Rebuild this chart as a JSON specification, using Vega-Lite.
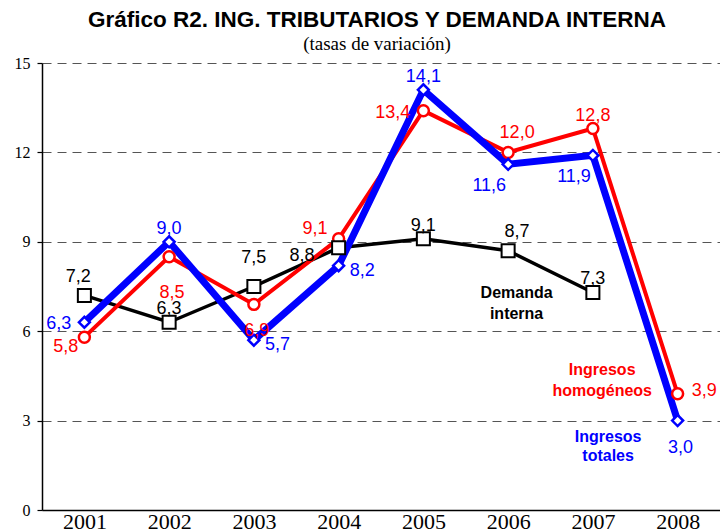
{
  "$schema": "https://vega.github.io/schema/vega-lite/v6.json",
  "width": 678,
  "height": 447,
  "autosize": {"type": "none"},
  "padding": {"left": 42, "top": 63, "right": 0, "bottom": 22},
  "background": "white",
  "title": {
    "text": "Gráfico R2. ING. TRIBUTARIOS Y DEMANDA INTERNA",
    "subtitle": "(tasas de variación)",
    "anchor": "middle",
    "font": "Liberation Sans",
    "fontSize": 22.5,
    "fontWeight": "bold",
    "color": "black",
    "subtitleFont": "Liberation Serif",
    "subtitleFontSize": 19,
    "subtitleColor": "black",
    "subtitlePadding": 4,
    "offset": 1,
    "dx": -4
  },
  "datasets": {
    "series": [
      {"serie": "Demanda interna", "year": 2001, "value": 7.2, "lab": "NW"},
      {"serie": "Demanda interna", "year": 2002, "value": 6.3, "lab": "N"},
      {"serie": "Demanda interna", "year": 2003, "value": 7.5, "lab": "NN"},
      {"serie": "Demanda interna", "year": 2004, "value": 8.8, "lab": "WW"},
      {"serie": "Demanda interna", "year": 2005, "value": 9.1, "lab": "N"},
      {"serie": "Demanda interna", "year": 2006, "value": 8.7, "lab": "NE"},
      {"serie": "Demanda interna", "year": 2007, "value": 7.3, "lab": "N"},
      {"serie": "Ingresos homogéneos", "year": 2001, "value": 5.8, "lab": "WS"},
      {"serie": "Ingresos homogéneos", "year": 2002, "value": 8.5, "lab": "SS"},
      {"serie": "Ingresos homogéneos", "year": 2003, "value": 6.9, "lab": "S"},
      {"serie": "Ingresos homogéneos", "year": 2004, "value": 9.1, "lab": "WN"},
      {"serie": "Ingresos homogéneos", "year": 2005, "value": 13.4, "lab": "W"},
      {"serie": "Ingresos homogéneos", "year": 2006, "value": 12.0, "lab": "NE"},
      {"serie": "Ingresos homogéneos", "year": 2007, "value": 12.8, "lab": "N"},
      {"serie": "Ingresos homogéneos", "year": 2008, "value": 3.9, "lab": "EN"},
      {"serie": "Ingresos totales", "year": 2001, "value": 6.3, "lab": "W"},
      {"serie": "Ingresos totales", "year": 2002, "value": 9.0, "lab": "N"},
      {"serie": "Ingresos totales", "year": 2003, "value": 5.7, "lab": "E"},
      {"serie": "Ingresos totales", "year": 2004, "value": 8.2, "lab": "E"},
      {"serie": "Ingresos totales", "year": 2005, "value": 14.1, "lab": "N"},
      {"serie": "Ingresos totales", "year": 2006, "value": 11.6, "lab": "SW"},
      {"serie": "Ingresos totales", "year": 2007, "value": 11.9, "lab": "SW"},
      {"serie": "Ingresos totales", "year": 2008, "value": 3.0, "lab": "S"}
    ],
    "notes": [
      {"serie": "Demanda interna", "text": "Demanda", "year": 2006.10, "value": 7.13},
      {"serie": "Demanda interna", "text": "interna", "year": 2006.10, "value": 6.42},
      {"serie": "Ingresos homogéneos", "text": "Ingresos", "year": 2007.11, "value": 4.54},
      {"serie": "Ingresos homogéneos", "text": "homogéneos", "year": 2007.11, "value": 3.81},
      {"serie": "Ingresos totales", "text": "Ingresos", "year": 2007.18, "value": 2.29},
      {"serie": "Ingresos totales", "text": "totales", "year": 2007.18, "value": 1.63}
    ]
  },
  "data": {"name": "series"},
  "encoding": {
    "x": {
      "field": "year",
      "type": "quantitative",
      "scale": {"domain": [2000.5, 2008.5], "nice": false, "zero": false},
      "axis": {
        "values": [2001, 2002, 2003, 2004, 2005, 2006, 2007, 2008],
        "format": "d",
        "ticks": false,
        "tickSize": 0,
        "grid": false,
        "domainColor": "black",
        "domainWidth": 1.5,
        "labelFont": "Liberation Serif",
        "labelFontSize": 22,
        "labelColor": "black",
        "labelPadding": 1,
        "labelFlush": false,
        "labelOverlap": false,
        "title": null
      }
    },
    "y": {
      "field": "value",
      "type": "quantitative",
      "scale": {"domain": [0, 15], "nice": false},
      "axis": {
        "values": [0, 3, 6, 9, 12, 15],
        "grid": true,
        "gridDash": [9, 6],
        "gridColor": "#555555",
        "gridWidth": 1,
        "domainColor": "black",
        "domainWidth": 1.5,
        "tickColor": "black",
        "tickSize": 5,
        "tickWidth": 1.2,
        "labelFont": "Liberation Serif",
        "labelFontSize": 16,
        "labelColor": "black",
        "labelPadding": 7,
        "title": null
      }
    }
  },
  "layer": [
    {"transform": [{"filter": "datum.serie === 'Demanda interna'"}], "mark": {"type": "line", "color": "black", "strokeWidth": 3.5}},
    {"transform": [{"filter": "datum.serie === 'Ingresos homogéneos'"}], "mark": {"type": "line", "color": "#ff0000", "strokeWidth": 4}},
    {"transform": [{"filter": "datum.serie === 'Ingresos totales'"}], "mark": {"type": "line", "color": "#0000ff", "strokeWidth": 7}},
    {"transform": [{"filter": "datum.serie === 'Ingresos homogéneos'"}], "mark": {"type": "point", "shape": "circle", "filled": true, "fill": "white", "stroke": "#ff0000", "strokeWidth": 2.5, "size": 120, "opacity": 1}},
    {"transform": [{"filter": "datum.serie === 'Ingresos totales'"}], "mark": {"type": "point", "shape": "diamond", "filled": true, "fill": "white", "stroke": "#0000ff", "strokeWidth": 2.5, "size": 120, "opacity": 1}},
    {"transform": [{"filter": "datum.serie === 'Demanda interna'"}], "mark": {"type": "point", "shape": "square", "filled": true, "fill": "white", "stroke": "black", "strokeWidth": 2, "size": 170, "opacity": 1}},
    {"transform": [{"filter": "datum.lab === 'N'"}], "mark": {"type": "text", "align": "center", "baseline": "alphabetic", "dx": 0, "dy": -8, "font": "Liberation Sans", "fontSize": 18},
     "encoding": {"text": {"field": "value", "type": "quantitative", "format": ".1f"}, "color": {"field": "serie", "type": "nominal", "scale": {"domain": ["Demanda interna", "Ingresos homogéneos", "Ingresos totales"], "range": ["black", "#ff0000", "#0000ff"]}, "legend": null}}},
    {"transform": [{"filter": "datum.lab === 'NN'"}], "mark": {"type": "text", "align": "center", "baseline": "alphabetic", "dx": 0, "dy": -24, "font": "Liberation Sans", "fontSize": 18},
     "encoding": {"text": {"field": "value", "type": "quantitative", "format": ".1f"}, "color": {"field": "serie", "type": "nominal", "legend": null}}},
    {"transform": [{"filter": "datum.lab === 'NE'"}], "mark": {"type": "text", "align": "center", "baseline": "alphabetic", "dx": 9, "dy": -14, "font": "Liberation Sans", "fontSize": 18},
     "encoding": {"text": {"field": "value", "type": "quantitative", "format": ".1f"}, "color": {"field": "serie", "type": "nominal", "legend": null}}},
    {"transform": [{"filter": "datum.lab === 'NW'"}], "mark": {"type": "text", "align": "center", "baseline": "alphabetic", "dx": -6, "dy": -13, "font": "Liberation Sans", "fontSize": 18},
     "encoding": {"text": {"field": "value", "type": "quantitative", "format": ".1f"}, "color": {"field": "serie", "type": "nominal", "legend": null}}},
    {"transform": [{"filter": "datum.lab === 'S'"}], "mark": {"type": "text", "align": "center", "baseline": "alphabetic", "dx": 3, "dy": 32, "font": "Liberation Sans", "fontSize": 18},
     "encoding": {"text": {"field": "value", "type": "quantitative", "format": ".1f"}, "color": {"field": "serie", "type": "nominal", "legend": null}}},
    {"transform": [{"filter": "datum.lab === 'SS'"}], "mark": {"type": "text", "align": "center", "baseline": "alphabetic", "dx": 3, "dy": 41, "font": "Liberation Sans", "fontSize": 18},
     "encoding": {"text": {"field": "value", "type": "quantitative", "format": ".1f"}, "color": {"field": "serie", "type": "nominal", "legend": null}}},
    {"transform": [{"filter": "datum.lab === 'W'"}], "mark": {"type": "text", "align": "right", "baseline": "alphabetic", "dx": -13, "dy": 7, "font": "Liberation Sans", "fontSize": 18},
     "encoding": {"text": {"field": "value", "type": "quantitative", "format": ".1f"}, "color": {"field": "serie", "type": "nominal", "legend": null}}},
    {"transform": [{"filter": "datum.lab === 'WN'"}], "mark": {"type": "text", "align": "right", "baseline": "alphabetic", "dx": -11, "dy": -5, "font": "Liberation Sans", "fontSize": 18},
     "encoding": {"text": {"field": "value", "type": "quantitative", "format": ".1f"}, "color": {"field": "serie", "type": "nominal", "legend": null}}},
    {"transform": [{"filter": "datum.lab === 'WS'"}], "mark": {"type": "text", "align": "right", "baseline": "alphabetic", "dx": -6, "dy": 15, "font": "Liberation Sans", "fontSize": 18},
     "encoding": {"text": {"field": "value", "type": "quantitative", "format": ".1f"}, "color": {"field": "serie", "type": "nominal", "legend": null}}},
    {"transform": [{"filter": "datum.lab === 'WW'"}], "mark": {"type": "text", "align": "right", "baseline": "alphabetic", "dx": -24, "dy": 13, "font": "Liberation Sans", "fontSize": 18},
     "encoding": {"text": {"field": "value", "type": "quantitative", "format": ".1f"}, "color": {"field": "serie", "type": "nominal", "legend": null}}},
    {"transform": [{"filter": "datum.lab === 'SW'"}], "mark": {"type": "text", "align": "right", "baseline": "alphabetic", "dx": -2, "dy": 27, "font": "Liberation Sans", "fontSize": 18},
     "encoding": {"text": {"field": "value", "type": "quantitative", "format": ".1f"}, "color": {"field": "serie", "type": "nominal", "legend": null}}},
    {"transform": [{"filter": "datum.lab === 'E'"}], "mark": {"type": "text", "align": "left", "baseline": "alphabetic", "dx": 11, "dy": 10, "font": "Liberation Sans", "fontSize": 18},
     "encoding": {"text": {"field": "value", "type": "quantitative", "format": ".1f"}, "color": {"field": "serie", "type": "nominal", "legend": null}}},
    {"transform": [{"filter": "datum.lab === 'EN'"}], "mark": {"type": "text", "align": "left", "baseline": "alphabetic", "dx": 14, "dy": 2, "font": "Liberation Sans", "fontSize": 18},
     "encoding": {"text": {"field": "value", "type": "quantitative", "format": ".1f"}, "color": {"field": "serie", "type": "nominal", "legend": null}}},
    {"data": {"name": "notes"}, "mark": {"type": "text", "align": "center", "baseline": "alphabetic", "font": "Liberation Sans", "fontSize": 16, "fontWeight": "bold"},
     "encoding": {"text": {"field": "text", "type": "nominal"}, "color": {"field": "serie", "type": "nominal", "legend": null}}}
  ],
  "config": {
    "view": {"stroke": null},
    "locale": {"number": {"decimal": ",", "thousands": ".", "grouping": [3], "currency": ["", " €"]}}
  }
}
